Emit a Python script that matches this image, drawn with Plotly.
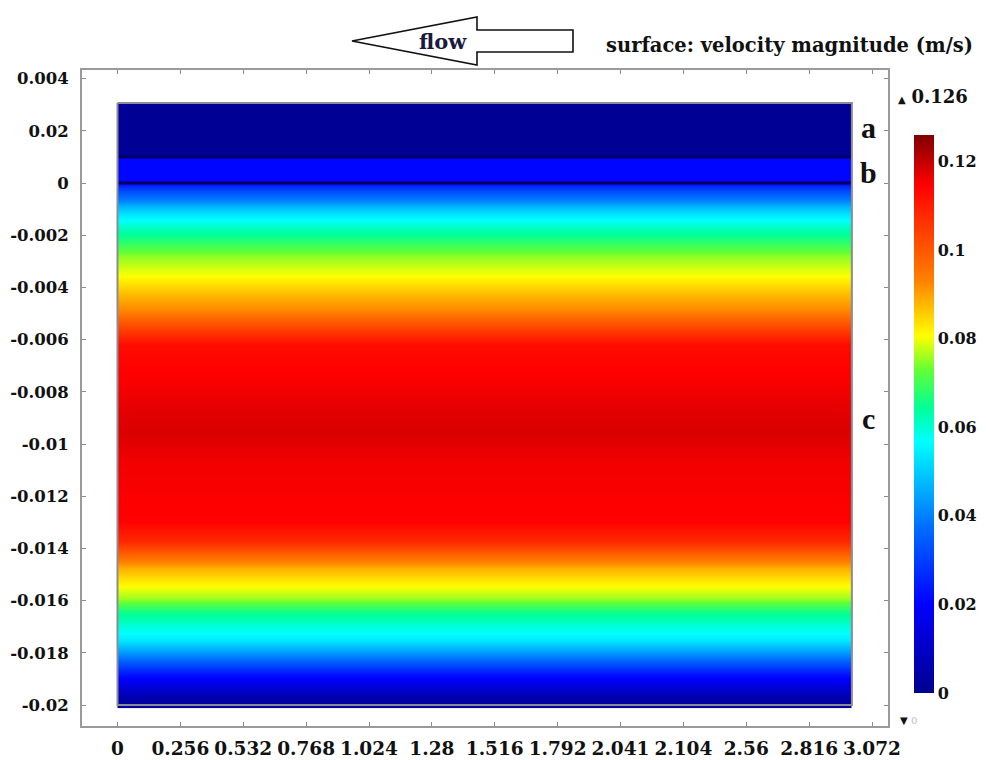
import plotly.graph_objects as go

# ---------------- data ----------------
x_tick_vals = [0, 0.256, 0.512, 0.768, 1.024, 1.28, 1.536, 1.792, 2.048, 2.304, 2.56, 2.816, 3.072]
x_tick_text = ["0", "0.256", "0.532", "0.768", "1.024", "1.28", "1.516", "1.792", "2.041", "2.104", "2.56", "2.816", "3.072"]
y_tick_vals = [0.004, 0.002, 0, -0.002, -0.004, -0.006, -0.008, -0.01, -0.012, -0.014, -0.016, -0.018, -0.02]
y_tick_text = ["0.004", "0.02", "0", "-0.002", "-0.004", "-0.006", "-0.008", "-0.01", "-0.012", "-0.014", "-0.016", "-0.018", "-0.02"]
cbar_tick_vals = [0, 0.02, 0.04, 0.06, 0.08, 0.1, 0.12]
cbar_tick_text = ["0", "0.02", "0.04", "0.06", "0.08", "0.1", "0.12"]

x_start, x_end = 0.0, 2.99
# layer a / layer b (uniform velocity), bounds in y
layer_a_y = [0.001, 0.00307]
layer_a_v = 0.001
layer_b_y = [0.0, 0.001]
layer_b_v = 0.021
# region c: velocity magnitude profile (y, speed)
c_y = [0.0, -0.00015, -0.0004, -0.00065, -0.0009, -0.00123, -0.0017, -0.0022, -0.0028,
       -0.0036, -0.0042, -0.0049, -0.0054, -0.0062, -0.0075, -0.0087, -0.0095, -0.0105,
       -0.012, -0.0129, -0.0137, -0.0143, -0.0148, -0.0154, -0.0159, -0.0164, -0.017,
       -0.0175, -0.0181, -0.0187, -0.0193, -0.0198, -0.02]
c_v = [0.022, 0.028, 0.034, 0.040, 0.047, 0.054, 0.061, 0.067, 0.075,
       0.081, 0.087, 0.093, 0.101, 0.113, 0.115, 0.117, 0.118, 0.116,
       0.115, 0.1145, 0.108, 0.097, 0.088, 0.081, 0.076, 0.066, 0.059,
       0.054, 0.041, 0.026, 0.013, 0.004, 0.002]
v_min, v_max = 0.0, 0.126
boundary_y = [0.001, 0.0]

colorscale = [[0.0, "#00008f"], [0.16, "#0000ff"], [0.30, "#0070ff"], [0.45, "#00ffff"],
              [0.51, "#00ff99"], [0.58, "#66ff33"], [0.64, "#ffff00"], [0.74, "#ff8000"],
              [0.91, "#ff0000"], [1.0, "#800000"]]

# ---------------- layout helpers (window pixel -> paper) ----------------
OFF = 8  # page body margin
W, H = 986 - OFF, 760 - OFF
PL, PR, PT, PB = 82, 888, 70, 726   # plot frame in window pixels
def pxx(v):
    return (v - PL) / (PR - PL)
def pxy(v):
    return (PB - v) / (PB - PT)

x_mid = (x_start + x_end) / 2
fig = go.Figure()

# region c (smooth profile)
fig.add_trace(go.Heatmap(
    x=[x_start, x_mid, x_end], y=c_y, z=[[v, v] for v in c_v],
    zsmooth="best", colorscale=colorscale, zmin=v_min, zmax=v_max,
    colorbar=dict(
        x=pxx(914), xanchor="left", xpad=0, ypad=0,
        y=pxy(414), yanchor="middle", lenmode="pixels", len=558,
        thickness=20, outlinewidth=0,
        tickvals=cbar_tick_vals, ticktext=cbar_tick_text, ticks="",
        tickfont=dict(family="DejaVu Serif", size=16, color="#111", weight="bold"),
    ),
    hoverinfo="skip",
))
# layers a and b
for ys, v in [(layer_a_y, layer_a_v), (layer_b_y, layer_b_v)]:
    fig.add_trace(go.Heatmap(
        x=[x_start, x_end], y=ys, z=[[v]], colorscale=colorscale,
        zmin=v_min, zmax=v_max, showscale=False, hoverinfo="skip"))

# interface lines
for by in boundary_y:
    fig.add_trace(go.Scatter(x=[x_start, x_end], y=[by, by], mode="lines",
                             line=dict(color="#000066", width=3), hoverinfo="skip",
                             showlegend=False))
# domain outline
fig.add_trace(go.Scatter(
    x=[x_start, x_end, x_end, x_start, x_start],
    y=[layer_a_y[1], layer_a_y[1], c_y[-1], c_y[-1], layer_a_y[1]],
    mode="lines", line=dict(color="#8c8c98", width=2), hoverinfo="skip", showlegend=False))

axis_common = dict(showgrid=False, zeroline=False, showline=True, linecolor="#9a9a9a",
                   linewidth=2, mirror="ticks", ticks="inside", ticklen=4,
                   tickcolor="#8a8a8a", tickwidth=1)

fig.update_layout(
    width=W, height=H,
    margin=dict(l=PL - OFF, r=W - (PR - OFF), t=PT - OFF, b=H - (PB - OFF), autoexpand=False),
    paper_bgcolor="white", plot_bgcolor="white",
    showlegend=False,
    xaxis=dict(range=[-0.1445, 3.137], tickvals=x_tick_vals, ticktext=x_tick_text,
               tickfont=dict(family="DejaVu Serif", size=18.5, color="#111", weight="bold"),
               ticklabelstandoff=5, **axis_common),
    yaxis=dict(range=[-0.0208, 0.00433], tickvals=y_tick_vals, ticktext=y_tick_text,
               tickfont=dict(family="DejaVu Serif", size=16.5, color="#111", weight="bold"),
               ticklabelstandoff=8, **axis_common),
)

# flow arrow (outline)
pts = [(352, 41), (477, 17), (477, 30), (573, 30), (573, 52), (477, 52), (477, 65)]
path = "M " + " L ".join(f"{pxx(a):.5f},{pxy(b):.5f}" for a, b in pts) + " Z"
fig.add_shape(type="path", path=path, xref="paper", yref="paper",
              line=dict(color="#111", width=1.6), fillcolor="rgba(0,0,0,0)")

annots = [
    dict(x=pxx(443), y=pxy(41), text="<b>flow</b>", font=dict(family="DejaVu Serif", size=21, color="#1a1a40"),
         xanchor="center", yanchor="middle"),
    dict(x=pxx(604), y=pxy(46), text="<b>surface: velocity magnitude (m/s)</b>",
         font=dict(family="DejaVu Serif", size=19.5, color="#111"), xanchor="left", yanchor="middle"),
    dict(x=pxx(896), y=pxy(97), text="<span style='font-size:10px'>▲</span> <b>0.126</b>",
         font=dict(family="DejaVu Serif", size=18, color="#111"), xanchor="left", yanchor="middle"),
    dict(x=pxx(898), y=pxy(720), text="▼ <span style='color:#bbbbbb'>0</span>",
         font=dict(family="DejaVu Serif", size=10, color="#111"), xanchor="left", yanchor="middle"),
    dict(x=pxx(868), y=pxy(128), text="<b>a</b>", font=dict(family="Liberation Serif", size=30, color="#111"),
         xanchor="center", yanchor="middle"),
    dict(x=pxx(868), y=pxy(172), text="<b>b</b>", font=dict(family="Liberation Serif", size=30, color="#111"),
         xanchor="center", yanchor="middle"),
    dict(x=pxx(868), y=pxy(418), text="<b>c</b>", font=dict(family="Liberation Serif", size=30, color="#111"),
         xanchor="center", yanchor="middle"),
]
for a in annots:
    fig.add_annotation(xref="paper", yref="paper", showarrow=False, **a)

fig.write_html("out.html")
